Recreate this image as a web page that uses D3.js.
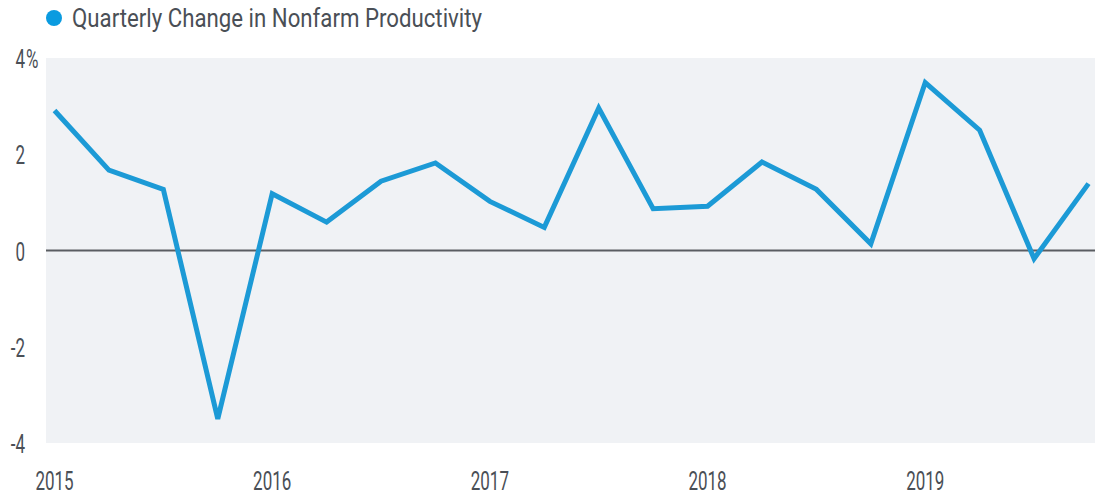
<!DOCTYPE html>
<html>
<head>
<meta charset="utf-8">
<script src="https://cdn.jsdelivr.net/npm/d3@7"></script>
<style>
  html, body { margin: 0; padding: 0; background: #fff; }
  svg text { font-family: "Roboto", "Liberation Sans", sans-serif; fill: #4a4f56; }
</style>
</head>
<body>
<svg id="chart" width="1098" height="495"></svg>
<script>
const seriesName = "Quarterly Change in Nonfarm Productivity";
const quarters = [
  "2015Q1","2015Q2","2015Q3","2015Q4",
  "2016Q1","2016Q2","2016Q3","2016Q4",
  "2017Q1","2017Q2","2017Q3","2017Q4",
  "2018Q1","2018Q2","2018Q3","2018Q4",
  "2019Q1","2019Q2","2019Q3","2019Q4"
];
const values = [
  2.91, 1.67, 1.27, -3.5,
  1.18, 0.59, 1.44, 1.82,
  1.02, 0.48, 2.96, 0.87,
  0.92, 1.84, 1.27, 0.14,
  3.49, 2.50, -0.17, 1.39
];
const yearTicks = ["2015Q1","2016Q1","2017Q1","2018Q1","2019Q1"];
const yearLabels = ["2015","2016","2017","2018","2019"];
const yTicks = [4, 2, 0, -2, -4];

const svg = d3.select("#chart");
const plot = { left: 46, right: 1095, top: 58, bottom: 443 };
const SX = 0.68;      // horizontal condensing of the label font
const FS = 25;

const x = d3.scalePoint().domain(quarters).range([54.5, 1088.5]);
const y = d3.scaleLinear().domain([-4, 4]).range([plot.bottom, plot.top]);

function condensedText(parent, px, py, str, anchor) {
  const g = parent.append("g").attr("transform", `translate(${px},${py}) scale(${SX},1)`);
  return g.append("text")
    .attr("x", 0).attr("y", 0)
    .attr("dy", "0.36em")
    .attr("text-anchor", anchor)
    .attr("font-size", FS)
    .text(str);
}

// background
svg.append("rect")
  .attr("x", plot.left).attr("y", y(4))
  .attr("width", plot.right - plot.left).attr("height", y(-4) - y(4))
  .attr("fill", "#f0f2f5");

// zero line
svg.append("line")
  .attr("x1", plot.left).attr("x2", plot.right)
  .attr("y1", y(0)).attr("y2", y(0))
  .attr("stroke", "#5a5d62").attr("stroke-width", 2);

// y labels
const yl = svg.append("g");
yTicks.forEach(t => {
  condensedText(yl, 25, y(t) + 1, String(t).replace("-", "-"), "end");
  if (t === 4) condensedText(yl, 26, y(t) + 1, "%", "start");
});

// x labels
const xl = svg.append("g");
yearTicks.forEach((d, i) => condensedText(xl, x(d), 481, yearLabels[i], "middle"));

// line
const line = d3.line()
  .x((d, i) => x(quarters[i]))
  .y(d => y(d));

svg.append("path")
  .datum(values)
  .attr("d", line)
  .attr("fill", "none")
  .attr("stroke", "#1c9ad6")
  .attr("stroke-width", 5)
  .attr("stroke-linejoin", "miter");

// legend
svg.append("circle")
  .attr("cx", 54).attr("cy", 18).attr("r", 8)
  .attr("fill", "#0a9be0");
svg.append("text")
  .attr("x", 72).attr("y", 18)
  .attr("dy", "0.36em")
  .attr("font-size", 26)
  .attr("textLength", 410)
  .attr("lengthAdjust", "spacingAndGlyphs")
  .text(seriesName);
</script>
</body>
</html>
